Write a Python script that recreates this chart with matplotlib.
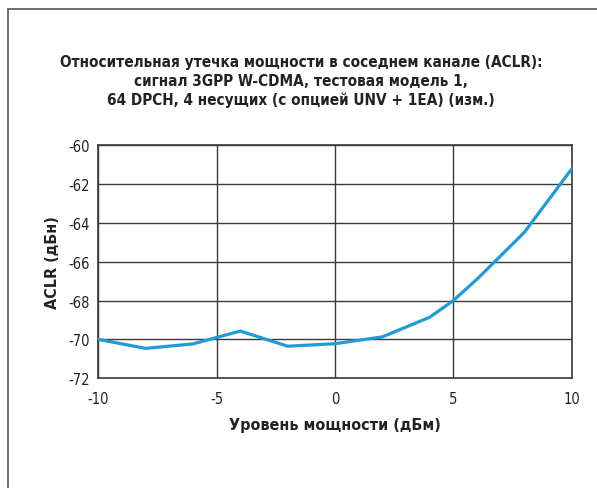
import matplotlib.pyplot as plt
from matplotlib.patches import Rectangle

power_dbm = [-10, -8, -6, -4, -2, 0, 2, 4, 5, 6, 7, 8, 10]
aclr_dbc = [-70.0, -70.46, -70.23, -69.57, -70.35, -70.22, -69.87, -68.86, -68.0, -66.9, -65.7, -64.49, -61.23]

x_ticks = [-10, -5, 0, 5, 10]
y_ticks = [-60, -62, -64, -66, -68, -70, -72]

title = ('Относительная утечка мощности в соседнем канале (ACLR):\n'
         'сигнал 3GPP W-CDMA, тестовая модель 1,\n'
         '64 DPCH, 4 несущих (с опцией UNV + 1EA) (изм.)')

plt.rcParams['font.family'] = ['DejaVu Sans']
plt.rcParams['font.stretch'] = 'condensed'

fig = plt.figure(figsize=(5.97, 4.89), dpi=100)
W, H = 597, 489
ax = fig.add_axes([98.3 / W, 1 - 379.3 / H, (571.7 - 98.3) / W, (379.3 - 146) / H])

ax.plot(power_dbm, aclr_dbc, color='#1f9bd7', lw=2.3, solid_joinstyle='miter', zorder=3)
ax.set_xlim(-10, 10)
ax.set_ylim(-72, -60)
ax.set_xticks(x_ticks)
ax.set_yticks(y_ticks)
ax.set_xticklabels([str(t) for t in x_ticks])
ax.set_yticklabels([str(t) for t in y_ticks])
ax.grid(True, color='#3a3a3a', lw=1.0)
ax.tick_params(length=0, labelsize=10.5, colors='#222222')
ax.tick_params(axis='x', pad=9)
ax.tick_params(axis='y', pad=6)
for s in ax.spines.values():
    s.set_color('#3a3a3a')
    s.set_linewidth(1.2)

ax.set_xlabel('Уровень мощности (дБм)', fontsize=11.5, fontweight='bold', color='#222222', labelpad=8)
ax.set_ylabel('ACLR (дБн)', fontsize=11.5, fontweight='bold', color='#222222', labelpad=6)

fig.text(301 / W, 1 - 55 / H, title, ha='center', va='top', fontsize=11, fontweight='bold',
         color='#222222', linespacing=1.3)

# outer frame
fig.patches.append(Rectangle((8 / W, -0.1), 1.2, 1 - 10 / H + 0.1, transform=fig.transFigure,
                             fill=False, ec='#555555', lw=1.2))

fig.savefig('out.png', dpi=100)
